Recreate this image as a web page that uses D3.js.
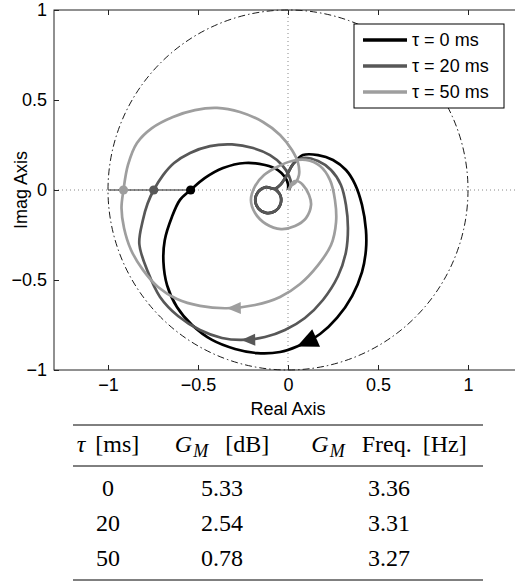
<!DOCTYPE html>
<html>
<head>
<meta charset="utf-8">
<script src="https://d3js.org/d3.v7.min.js"></script>
<style>
  body { margin:0; background:#fff; }
  svg { display:block; }
  .axis text { font-family:"Liberation Sans", Arial, sans-serif; font-size:18px; fill:#000; }
  .axis line { stroke:#222; }
  .label { font-family:"Liberation Sans", Arial, sans-serif; font-size:18px; }
  .tbl { font-family:"Liberation Serif", "Times New Roman", serif; font-size:24px; }
</style>
</head>
<body>
<svg id="plot"></svg>
<script>

// legend names
var seriesNames = ["\u03c4 = 0 ms", "\u03c4 = 20 ms", "\u03c4 = 50 ms"];

// small low frequency loop shared by tau = 0 and tau = 20  [re, im]
var startLoop = [[-0.073,0.007],[-0.042,-0.031],[-0.042,-0.08],[-0.073,-0.118],[-0.122,-0.127],
    [-0.165,-0.102],[-0.182,-0.056],[-0.165,-0.009],[-0.122,0.016],[-0.073,0.007],
    [-0.039,0.033],[-0.006,0.083],[0.028,0.144]];

// tau = 0 ms
var curveTau0 = startLoop.concat([[0.083,0.194],[0.167,0.194],[0.25,0.167],[0.322,0.111],
    [0.372,0.033],[0.411,-0.083],[0.433,-0.222],[0.433,-0.333],[0.411,-0.456],[0.356,-0.589],
    [0.272,-0.711],[0.178,-0.8],[0.05,-0.87],[-0.044,-0.9],[-0.172,-0.906],[-0.294,-0.883],
    [-0.422,-0.833],[-0.533,-0.75],[-0.617,-0.65],[-0.672,-0.528],[-0.692,-0.4],[-0.685,-0.28],
    [-0.645,-0.15],[-0.6,-0.055],[-0.541,0],[-0.461,0.067],[-0.361,0.122],[-0.239,0.15],
    [-0.128,0.139],[-0.056,0.111],[-0.017,0.072],[0,0.033],[0,0]]);

// tau = 20 ms
var curveTau20 = startLoop.concat([[0.083,0.178],[0.167,0.161],[0.239,0.111],[0.294,0.028],
    [0.322,-0.083],[0.333,-0.211],[0.322,-0.344],[0.278,-0.478],[0.194,-0.611],[0.094,-0.711],
    [-0.017,-0.778],[-0.128,-0.817],[-0.26,-0.833],[-0.367,-0.822],[-0.489,-0.778],[-0.611,-0.7],
    [-0.711,-0.594],[-0.778,-0.456],[-0.826,-0.3],[-0.806,-0.167],[-0.78,-0.075],[-0.746,0],
    [-0.694,0.083],[-0.633,0.15],[-0.544,0.206],[-0.433,0.244],[-0.311,0.253],[-0.194,0.233],
    [-0.1,0.194],[-0.033,0.139],[0.006,0.078],[0.017,0.033],[0.006,0]]);

// tau = 50 ms
var curveTau50 = [[0.006,0.006],[0.022,0.039],[0.05,0.05],[0.083,0.028],[0.117,-0.028],
    [0.128,-0.083],[0.1,-0.156],[0.039,-0.2],[-0.039,-0.217],[-0.122,-0.189],[-0.183,-0.128],
    [-0.206,-0.056],[-0.183,0.022],[-0.133,0.083],[-0.061,0.128],[0.022,0.161],[0.1,0.167],
    [0.178,0.133],[0.233,0.056],[0.261,-0.056],[0.267,-0.178],[0.239,-0.306],[0.167,-0.417],
    [0.067,-0.522],[-0.044,-0.594],[-0.183,-0.639],[-0.34,-0.657],[-0.489,-0.644],[-0.617,-0.606],
    [-0.722,-0.539],[-0.806,-0.444],[-0.872,-0.333],[-0.911,-0.211],[-0.925,-0.1],[-0.914,0],
    [-0.889,0.139],[-0.839,0.261],[-0.756,0.344],[-0.639,0.406],[-0.517,0.444],[-0.394,0.456],
    [-0.267,0.433],[-0.139,0.378],[-0.044,0.306],[0.022,0.222],[0.056,0.15],[0.061,0.083],
    [0.044,0.044],[0.017,0.022],[0,0]];

// which point of each curve carries the arrow
var arrowIdx = [25, 25, 26];

// real axis crossings (gain margin points)
var gmCross = [-0.541, -0.746, -0.914];

// table
var tableTau = ["0", "20", "50"];
var tableGm = ["5.33", "2.54", "0.78"];
var tableFreq = ["3.36", "3.31", "3.27"];

var xTicks = [-1, -0.5, 0, 0.5, 1];
var yTicks = [-1, -0.5, 0, 0.5, 1];

var curves = [curveTau0, curveTau20, curveTau50];
var colors = ["#000000", "#575757", "#9e9e9e"];
var arrowSize = [{len:21, wid:19}, {len:14, wid:12}, {len:14, wid:12}];

var screen = {width:515, height:584};

var svg = d3.select("#plot")
    .attr("width", screen.width)
    .attr("height", screen.height);

var xScale = d3.scaleLinear().domain([-1.3, 1.3]).range([54, 522]);
var yScale = d3.scaleLinear().domain([-1, 1]).range([370, 10]);

var fmt = function(d) { return d < 0 ? "\u2212" + Math.abs(d) : String(d); };

// zero lines, dotted
svg.append("line")
    .attr("x1", xScale(-1.3)).attr("x2", xScale(1.3))
    .attr("y1", yScale(0)).attr("y2", yScale(0))
    .attr("stroke", "#888").attr("stroke-dasharray", "1,3");
svg.append("line")
    .attr("x1", xScale(0)).attr("x2", xScale(0))
    .attr("y1", yScale(-1)).attr("y2", yScale(1))
    .attr("stroke", "#888").attr("stroke-dasharray", "1,3");

// unit circle
svg.append("ellipse")
    .attr("cx", xScale(0)).attr("cy", yScale(0))
    .attr("rx", xScale(1) - xScale(0)).attr("ry", yScale(-1) - yScale(0))
    .attr("fill", "none").attr("stroke", "#000").attr("stroke-width", 0.9)
    .attr("stroke-dasharray", "7,3,1.5,3");

// line from -1 to the crossings
svg.append("line")
    .attr("x1", xScale(-1)).attr("x2", xScale(d3.max(gmCross)))
    .attr("y1", yScale(0)).attr("y2", yScale(0))
    .attr("stroke", "#222").attr("stroke-width", 1.2);

var lineGen = d3.line()
    .x(function(p) { return xScale(p[0]); })
    .y(function(p) { return yScale(p[1]); })
    .curve(d3.curveCatmullRom.alpha(0.5));

var g = svg.append("g").classed("graph", true);

curves.forEach(function(c, i) {
    g.append("path")
        .attr("d", lineGen(c))
        .attr("fill", "none")
        .attr("stroke", colors[i])
        .attr("stroke-width", 2.7)
        .attr("stroke-linejoin", "round");

    // arrow head
    var k = arrowIdx[i];
    var tx = xScale(c[k][0]), ty = yScale(c[k][1]);
    var dx = xScale(c[k+1][0]) - xScale(c[k-1][0]);
    var dy = yScale(c[k+1][1]) - yScale(c[k-1][1]);
    var n = Math.sqrt(dx*dx + dy*dy);
    dx = dx/n; dy = dy/n;
    var bx = tx - dx*arrowSize[i].len, by = ty - dy*arrowSize[i].len;
    var w = arrowSize[i].wid/2;
    g.append("path")
        .attr("d", "M" + tx + "," + ty +
            "L" + (bx - dy*w) + "," + (by + dx*w) +
            "L" + (bx + dy*w) + "," + (by - dx*w) + "Z")
        .attr("fill", colors[i]);
});

// crossing dots
g.selectAll("circle.gm")
    .data(gmCross)
    .enter()
    .append("circle")
    .attr("cx", function(d) { return xScale(d); })
    .attr("cy", yScale(0))
    .attr("r", 4.6)
    .attr("fill", function(d, i) { return colors[i]; });

// axes with inside ticks
var axes = svg.append("g").classed("axis", true);
axes.append("g")
    .attr("transform", "translate(0," + yScale(-1) + ")")
    .call(d3.axisBottom(xScale).tickValues(xTicks).tickSize(-5).tickPadding(8).tickFormat(fmt));
axes.append("g")
    .attr("transform", "translate(0," + yScale(1) + ")")
    .call(d3.axisTop(xScale).tickValues(xTicks).tickSize(-5).tickFormat(""));
axes.append("g")
    .attr("transform", "translate(" + xScale(-1.3) + ",0)")
    .call(d3.axisLeft(yScale).tickValues(yTicks).tickSize(-5).tickPadding(7).tickFormat(fmt));
axes.selectAll(".domain").remove();

svg.append("rect")
    .attr("x", xScale(-1.3)).attr("y", yScale(1))
    .attr("width", xScale(1.3) - xScale(-1.3))
    .attr("height", yScale(-1) - yScale(1))
    .attr("fill", "none").attr("stroke", "#222").attr("stroke-width", 1);

// axis labels
svg.append("text").classed("label", true)
    .attr("x", xScale(0)).attr("y", 415)
    .attr("text-anchor", "middle")
    .text("Real Axis");
svg.append("text").classed("label", true)
    .attr("transform", "translate(27," + yScale(0) + ") rotate(-90)")
    .attr("text-anchor", "middle")
    .text("Imag Axis");

// legend
var legend = svg.append("g").attr("transform", "translate(354,24)");
legend.append("rect")
    .attr("width", 150).attr("height", 84)
    .attr("fill", "#fff").attr("stroke", "#000").attr("stroke-width", 1);
seriesNames.forEach(function(name, i) {
    var ly = 16 + i*26;
    legend.append("line")
        .attr("x1", 9).attr("x2", 53)
        .attr("y1", ly).attr("y2", ly)
        .attr("stroke", colors[i]).attr("stroke-width", 3.5);
    legend.append("text").classed("label", true)
        .attr("x", 58).attr("y", ly + 6)
        .text(name);
});

// table under the plot
var cols = [108, 222, 389];
var tbl = svg.append("g").classed("tbl", true);
[425, 466, 580].forEach(function(ry) {
    tbl.append("line")
        .attr("x1", 73).attr("x2", 483)
        .attr("y1", ry).attr("y2", ry)
        .attr("stroke", "#000").attr("stroke-width", 1);
});

var h1 = tbl.append("text").attr("x", cols[0]).attr("y", 452).attr("text-anchor", "middle");
h1.append("tspan").attr("font-style", "italic").text("\u03c4");
h1.append("tspan").attr("dx", 4).text(" [ms]");

var header2 = function(x, rest) {
    var t = tbl.append("text").attr("x", x).attr("y", 452).attr("text-anchor", "middle");
    t.append("tspan").attr("font-style", "italic").text("G");
    t.append("tspan").attr("font-style", "italic").attr("font-size", "18px")
        .attr("dx", 1).attr("dy", 5).text("M");
    t.append("tspan").attr("dx", 6).attr("dy", -5).attr("word-spacing", "5px").text(" " + rest);
};
header2(cols[1], "[dB]");
header2(cols[2], "Freq. [Hz]");

tableTau.forEach(function(v, i) {
    var ry = 496 + i*35;
    tbl.append("text").attr("x", cols[0]).attr("y", ry).attr("text-anchor", "middle").text(v);
    tbl.append("text").attr("x", cols[1]).attr("y", ry).attr("text-anchor", "middle").text(tableGm[i]);
    tbl.append("text").attr("x", cols[2]).attr("y", ry).attr("text-anchor", "middle").text(tableFreq[i]);
});

</script>
</body>
</html>
